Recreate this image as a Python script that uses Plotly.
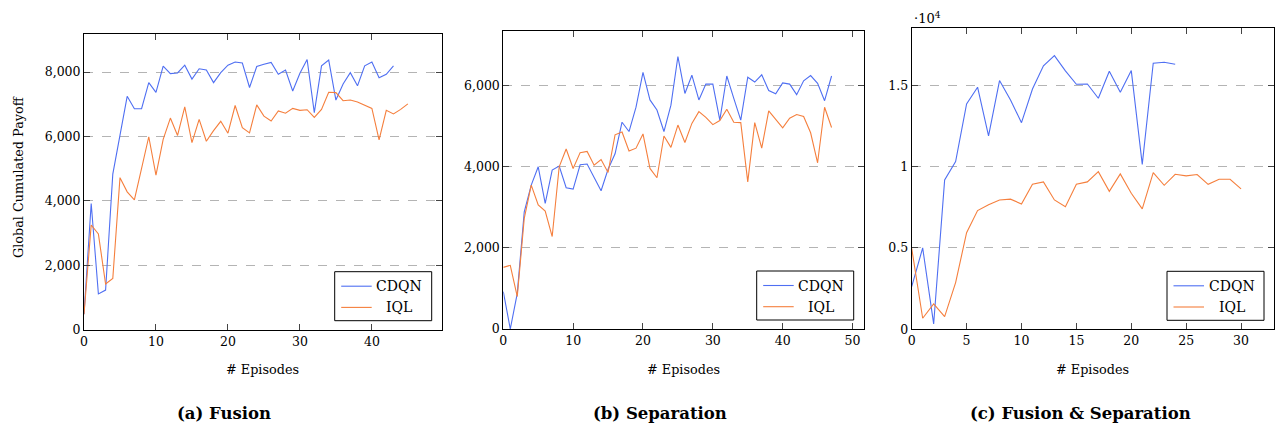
import plotly.graph_objects as go

W, H = 1275, 425

# ---------------- data ----------------
fusion_cdqn = [480, 3920, 1110, 1230, 4830, 6000, 7245, 6860, 6860, 7670, 7370, 8180, 7950, 7970,
               8210, 7780, 8100, 8060, 7670, 7980, 8210, 8310, 8280, 7520, 8170, 8240, 8300, 7930,
               8060, 7410, 7960, 8390, 6740, 8190, 8370, 7130, 7630, 7980, 7570, 8190, 8310, 7820,
               7930, 8190]
fusion_iql = [480, 3250, 2970, 1420, 1590, 4720, 4280, 4030, 5010, 5990, 4800, 5910, 6570, 6030,
              6920, 5810, 6530, 5850, 6180, 6470, 6100, 6960, 6270, 6110, 6980, 6630, 6480, 6790,
              6720, 6870, 6810, 6830, 6590, 6840, 7370, 7360, 7110, 7130, 7070, 6960, 6870, 5890,
              6810, 6700, 6840, 7010]
sep_cdqn = [920, 0, 880, 2890, 3550, 4000, 3100, 3920, 4020, 3485, 3450, 4050, 4070, 3730, 3410,
            3940, 4320, 5100, 4870, 5470, 6330, 5650, 5400, 4870, 5520, 6720, 5810, 6260, 5650,
            6040, 6040, 5150, 6240, 5690, 5150, 6210, 6090, 6270, 5880, 5800, 6070, 6040, 5780,
            6120, 6250, 6060, 5630, 6240]
sep_iql = [1520, 1570, 800, 2730, 3550, 3060, 2910, 2280, 4000, 4440, 3960, 4350, 4380, 4040, 4180,
           3860, 4790, 4860, 4390, 4460, 4810, 3960, 3730, 4760, 4480, 5030, 4600, 5070, 5360,
           5220, 5040, 5140, 5420, 5100, 5090, 3630, 5090, 4460, 5380, 5170, 4960, 5200, 5290,
           5240, 4840, 4100, 5470, 4970]
fs_cdqn = [2620, 5000, 330, 9180, 10310, 13850, 14880, 11890, 15290, 14100, 12700, 14770, 16190,
           16820, 15880, 15060, 15080, 14200, 15860, 14570, 15900, 10140, 16350, 16410, 16290]
fs_iql = [4980, 680, 1560, 780, 2870, 5940, 7300, 7660, 7950, 8000, 7700, 8910, 9060, 7950, 7540,
          8910, 9060, 9690, 8480, 9550, 8360, 7400, 9630, 8850, 9530, 9430, 9510, 8910, 9220,
          9220, 8630]

series_names = ["CDQN", "IQL"]
panel_titles = ["(a) Fusion", "(b) Separation", "(c) Fusion & Separation"]
x_label = "# Episodes"
y_label = "Global Cumulated Payoff"
fs_tickvals = [0, 5000, 10000, 15000]
fs_ticktext = ["0", "0.5", "1", "1.5"]

BLUE = "#4f6ff2"
ORANGE = "#f57f3d"
FONT = "DejaVu Serif"

# ---------------- layout geometry (pixels) ----------------
def px_x(p):
    return p / W

def px_y(p):
    return 1 - p / H

panels = [
    dict(l=84, r=441.7, t=34, b=329.7, xmax=49.7, ymax=9180, dtick=10, data=(fusion_cdqn, fusion_iql)),
    dict(l=503.3, r=863.7, t=30.7, b=329.0, xmax=51.6, ymax=7357, dtick=10, data=(sep_cdqn, sep_iql)),
    dict(l=911.7, r=1274.0, t=28.3, b=329.3, xmax=33.0, ymax=18500, dtick=5, data=(fs_cdqn, fs_iql)),
]
title_cx = [224, 660, 1080]

fig = go.Figure()
shapes = []
annotations = []

for i, p in enumerate(panels):
    n = "" if i == 0 else str(i + 1)
    xa = "xaxis" + n
    ya = "yaxis" + n
    cd, iq = p["data"]
    fig.add_trace(go.Scatter(x=list(range(len(cd))), y=cd, mode="lines",
                             line=dict(color=BLUE, width=1.1), xaxis="x" + n, yaxis="y" + n,
                             showlegend=False, name=series_names[0]))
    fig.add_trace(go.Scatter(x=list(range(len(iq))), y=iq, mode="lines",
                             line=dict(color=ORANGE, width=1.1), xaxis="x" + n, yaxis="y" + n,
                             showlegend=False, name=series_names[1]))
    common = dict(showline=True, linecolor="black", linewidth=1, mirror="allticks",
                  ticks="inside", ticklen=6, tickcolor="#444", tickwidth=1, automargin=False,
                  tickfont=dict(family=FONT, size=12.5, color="black"), zeroline=False)
    fig.layout[xa] = dict(domain=[px_x(p["l"]), px_x(p["r"])], range=[0, p["xmax"]],
                          dtick=p["dtick"], tick0=0, showgrid=False,
                          anchor="y" + n, **common)
    yd = dict(domain=[px_y(p["b"]), px_y(p["t"])], range=[0, p["ymax"]],
              showgrid=True, gridcolor="#b4b4b4", griddash="dash", gridwidth=1,
              anchor="x" + n, **common)
    if i == 2:
        yd.update(tickmode="array", tickvals=fs_tickvals, ticktext=fs_ticktext)
    else:
        yd.update(dtick=2000, tickformat=",d")
    fig.layout[ya] = yd

    # x label
    annotations.append(dict(text=x_label, x=px_x((p["l"] + p["r"]) / 2), y=px_y(369),
                            xref="paper", yref="paper", showarrow=False,
                            font=dict(family=FONT, size=12.8, color="black"),
                            xanchor="center", yanchor="middle"))
    # sub-caption
    annotations.append(dict(text="<b>" + panel_titles[i] + "</b>", x=px_x(title_cx[i]), y=px_y(413),
                            xref="paper", yref="paper", showarrow=False,
                            font=dict(family=FONT, size=16.5, color="black"),
                            xanchor="center", yanchor="middle"))

    # legend box
    br = p["r"] - 10
    bb = p["b"] - 9
    bl = br - 97
    bt = bb - 49
    shapes.append(dict(type="rect", xref="paper", yref="paper",
                       x0=px_x(bl), x1=px_x(br), y0=px_y(bb), y1=px_y(bt),
                       line=dict(color="black", width=1), fillcolor="white", layer="above"))
    for k, (nm, col) in enumerate(zip(series_names, [BLUE, ORANGE])):
        ry = bt + 14.5 + k * 21.2
        shapes.append(dict(type="line", xref="paper", yref="paper",
                           x0=px_x(bl + 6.5), x1=px_x(bl + 37), y0=px_y(ry), y1=px_y(ry),
                           line=dict(color=col, width=1.1), layer="above"))
        annotations.append(dict(text=nm, x=px_x(bl + 64.5), y=px_y(ry), xref="paper", yref="paper",
                                showarrow=False, xanchor="center", yanchor="middle",
                                font=dict(family=FONT, size=14, color="black")))

# y label
annotations.append(dict(text=y_label, x=px_x(18.5), y=px_y(177.5), xref="paper", yref="paper",
                        showarrow=False, textangle=-90, xanchor="center", yanchor="middle",
                        font=dict(family=FONT, size=12.8, color="black")))
# exponent marker for panel (c)
annotations.append(dict(text="·10<sup>4</sup>", x=px_x(912), y=px_y(18), xref="paper", yref="paper",
                        showarrow=False, xanchor="left", yanchor="middle",
                        font=dict(family=FONT, size=13, color="black")))

fig.update_layout(width=W, height=H, margin=dict(l=0, r=0, t=0, b=0),
                  paper_bgcolor="white", plot_bgcolor="white",
                  font=dict(family=FONT, color="black"),
                  shapes=shapes, annotations=annotations, showlegend=False)

fig.write_html("out.html", config={"displayModeBar": False},
               post_script="document.body.style.margin='0';document.body.style.overflow='hidden';")
